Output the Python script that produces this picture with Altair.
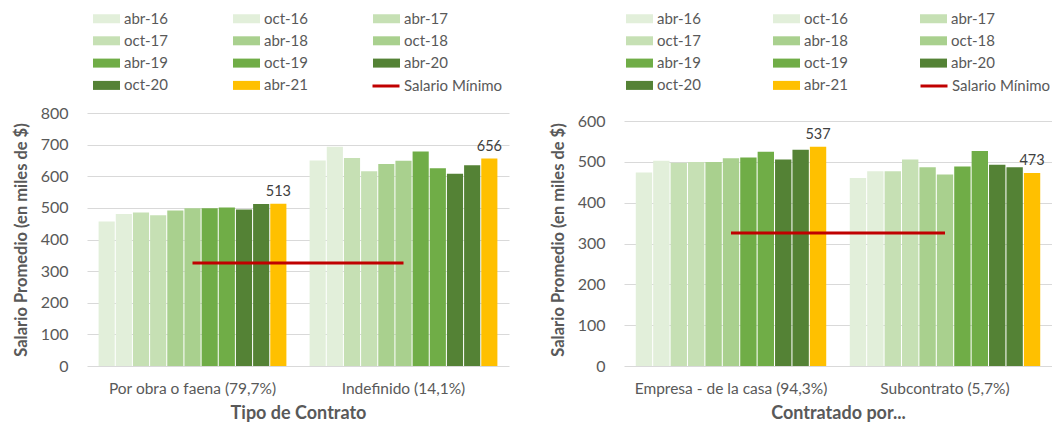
import altair as alt
import pandas as pd

# ---------------- data ----------------
periodos = ["abr-16", "oct-16", "abr-17", "oct-17", "abr-18", "oct-18",
            "abr-19", "oct-19", "abr-20", "oct-20", "abr-21"]
colores = ["#E2EFDA", "#E2EFDA", "#C6E0B4", "#C6E0B4", "#A9D08E", "#A9D08E",
           "#70AD47", "#70AD47", "#548235", "#548235", "#FFC000"]

tipo_contrato = ["Por obra o faena (79,7%)", "Indefinido (14,1%)"]
por_obra = [457, 481, 485, 477, 492, 499, 499, 501, 495, 512, 513]
indefinido = [650, 693, 658, 616, 639, 649, 678, 625, 608, 635, 656]

contratado_por = ["Empresa - de la casa (94,3%)", "Subcontrato (5,7%)"]
empresa = [474, 503, 498, 500, 500, 509, 511, 525, 506, 530, 537]
subcontrato = [461, 477, 477, 506, 487, 469, 489, 527, 493, 487, 473]

salario_minimo = 326
serie_linea = "Salario Mínimo"

FONT = "Lato"
GRAY = "#595959"
RECT = "M-3,-1H3V1H-3Z"


def panel(cats, series_vals, xtitle, ydomain, yvalues, width, height,
          leg_x, leg_y, col_pad, line_leg_x):
    rows = []
    for cat, vals in zip(cats, series_vals):
        for p, v in zip(periodos, vals):
            rows.append({"cat": cat, "periodo": p, "valor": v})
    df = pd.DataFrame(rows)
    line_df = pd.DataFrame({"cat": cats,
                            "valor": [salario_minimo] * len(cats),
                            "serie": [serie_linea] * len(cats)})

    x = alt.X("cat:N", sort=cats,
              scale=alt.Scale(paddingInner=0.11, paddingOuter=0.055),
              axis=alt.Axis(title=xtitle, labelAngle=0, ticks=False, domain=False,
                            labelPadding=15, titlePadding=8,
                            labelFontSize=15.5, labelColor=GRAY, labelFont=FONT,
                            titleFontSize=18, titleColor=GRAY, titleFont=FONT,
                            titleFontWeight="bold", labelLimit=300))
    y = alt.Y("valor:Q",
              scale=alt.Scale(domain=ydomain, nice=False, zero=True),
              axis=alt.Axis(title="Salario Promedio (en miles de $)", values=yvalues,
                            tickCount=len(yvalues),
                            ticks=False, domain=False, labelPadding=19, titlePadding=11,
                            labelOverlap=False,
                            labelFontSize=16, labelColor=GRAY, labelFont=FONT,
                            titleFontSize=16.5, titleColor=GRAY, titleFont=FONT,
                            titleFontWeight="bold", gridColor="#D9D9D9"))
    xoff = alt.XOffset("periodo:N", sort=periodos, scale=alt.Scale(paddingInner=0.06))

    bars = alt.Chart(df).mark_bar().encode(
        x=x, xOffset=xoff, y=y,
        color=alt.Color("periodo:N",
                        scale=alt.Scale(domain=periodos, range=colores),
                        legend=alt.Legend(title=None, orient="none", legendX=leg_x,
                                          legendY=leg_y, columns=3, gridAlign="all",
                                          direction="horizontal",
                                          columnPadding=col_pad, rowPadding=6.3,
                                          symbolType=RECT, symbolSize=81,
                                          symbolStrokeWidth=0, labelOffset=10,
                                          labelFontSize=15, labelFont=FONT,
                                          labelColor=GRAY)))
    labels = alt.Chart(df).transform_filter(
        alt.datum.periodo == periodos[-1]
    ).mark_text(dy=-12, fontSize=14.5, font=FONT, color="#404040").encode(
        x=x, xOffset=xoff, y=y, text="valor:Q")
    line = alt.Chart(line_df).mark_line(strokeWidth=3).encode(
        x=x,
        y=y,
        stroke=alt.Stroke("serie:N",
                          scale=alt.Scale(domain=[serie_linea], range=["#C00000"]),
                          legend=alt.Legend(title=None, orient="none",
                                            legendX=line_leg_x, legendY=leg_y + 60,
                                            symbolType="stroke", symbolSize=729,
                                            symbolStrokeWidth=3, labelOffset=3,
                                            labelFontSize=15, labelFont=FONT,
                                            labelColor=GRAY)))
    return alt.layer(bars, line, labels).properties(width=width, height=height)


left = panel(tipo_contrato, [por_obra, indefinido], "Tipo de Contrato",
             [0, 800], list(range(0, 801, 100)), 422, 253,
             12, -102, 64, 284)
right = panel(contratado_por, [empresa, subcontrato], "Contratado por...",
              [0, 620], list(range(0, 601, 100)), 428, 253,
              8, -102, 71, 295)

chart = alt.hconcat(left, right, spacing=41).resolve_scale(
    color="independent", stroke="independent", x="independent", y="independent",
    xOffset="independent"
).resolve_legend(color="independent", stroke="independent").properties(
    padding={"left": 5, "top": 3, "right": 0, "bottom": 0}
).configure_view(stroke=None)

chart.save("out.html", embed_options={"renderer": "svg", "actions": False})
